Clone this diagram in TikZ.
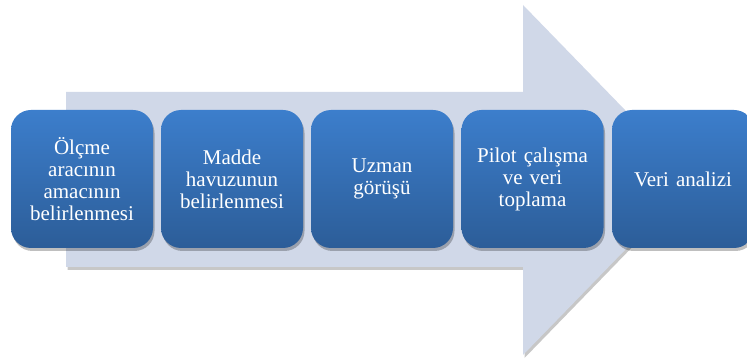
\documentclass[tikz,border=0pt]{standalone}
\usepackage{fontspec}
\setmainfont{Liberation Serif}
\usetikzlibrary{shadows}
\definecolor{arrowfill}{RGB}{208,216,232}
\definecolor{boxtop}{RGB}{60,126,204}
\definecolor{boxbot}{RGB}{44,93,152}
\tikzset{
  stepbox/.style={rounded corners=20pt, minimum width=142pt, minimum height=138pt,
    top color=boxtop, bottom color=boxbot, text=white, align=center, text width=132pt,
    inner sep=0pt, font=\fontsize{21}{22}\selectfont,
    drop shadow={shadow xshift=1.5pt, shadow yshift=-3pt, opacity=0.25, fill=black}},
  bigarrow/.style={fill=arrowfill,
    drop shadow={shadow xshift=1.5pt, shadow yshift=-3pt, opacity=0.22, fill=black}}
}
\begin{document}
\begin{tikzpicture}[x=1pt,y=1pt]
\useasboundingbox (0,0) rectangle (747,359);
\clip (0,0) rectangle (747,359);
\fill[white] (0,0) rectangle (747,359);
\path[bigarrow] (66,267) -- (523,267) -- (523,354) -- (693,179) -- (523,4) -- (523,92) -- (66,92) -- cycle;
\node[stepbox] (b1) at (82,180) {Ölçme\\aracının\\amacının\\belirlenmesi};
\node[stepbox] (b2) at (232,180) {Madde\\havuzunun\\belirlenmesi};
\node[stepbox] (b3) at (382,180) {Uzman\\görüşü};
\node[stepbox] (b4) at (532.5,180) {Pilot çalışma\\ve veri\\toplama};
\node[stepbox] (b5) at (683,180) {Veri analizi};
\end{tikzpicture}
\end{document}
